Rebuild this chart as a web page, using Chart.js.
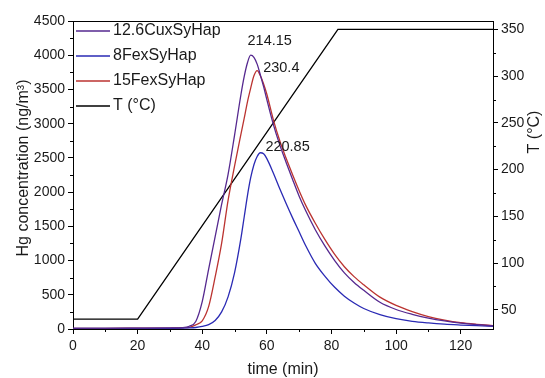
<!DOCTYPE html>
<html>
<head>
<meta charset="utf-8">
<script src="https://cdn.jsdelivr.net/npm/chart.js@4.4.0/dist/chart.umd.min.js"></script>
<style>
  html, body { margin: 0; padding: 0; background: #fff; }
</style>
</head>
<body>
<canvas id="hgChart" width="545" height="378"></canvas>
<script>
// time axis (min) shared by the three Hg curves
const time = [0, 10, 20, 30, 34, 36, 38, 40, 42, 44, 46, 48, 50, 52, 53, 54, 55, 56, 57, 58, 59, 60,
              62, 64, 66, 68, 70, 72, 75, 78, 81, 84, 87, 90, 95, 100, 105, 110, 115, 120, 125, 130];

// Hg concentration (ng/m3)
const cuHap = [10, 10, 12, 15, 20, 40, 110, 400, 880, 1350, 1820, 2260, 2830, 3430, 3690, 3890, 4000, 3970, 3870, 3710, 3540, 3350,
               2990, 2690, 2430, 2180, 1940, 1730, 1450, 1210, 1000, 820, 680, 565, 390, 285, 215, 160, 118, 86, 63, 46];
const fe8Hap = [8, 8, 8, 10, 12, 15, 22, 38, 65, 125, 250, 470, 820, 1330, 1640, 1950, 2210, 2400, 2520, 2575, 2560, 2490,
                2280, 2050, 1830, 1620, 1420, 1220, 960, 770, 610, 480, 380, 300, 210, 150, 112, 88, 70, 58, 48, 40];
const fe15Hap = [10, 10, 12, 14, 18, 25, 60, 120, 330, 760, 1250, 1880, 2380, 2850, 3080, 3320, 3520, 3700, 3775, 3700, 3580, 3430,
                 3060, 2750, 2490, 2250, 2020, 1810, 1545, 1305, 1090, 910, 765, 645, 465, 345, 255, 182, 130, 92, 68, 50];

// temperature program
const tempTime = [0, 20, 82, 130];
const tempValue = [40, 40, 350, 350];

const seriesNames = ['12.6CuxSyHap', '8FexSyHap', '15FexSyHap', 'T (°C)'];
const peakLabels = ['214.15', '220.85', '230.4'];
const axisTitles = ['time (min)', 'Hg concentration (ng/m³)', 'T (°C)'];

const xTicks = [0, 20, 40, 60, 80, 100, 120];
const xMinor = [10, 30, 50, 70, 90, 110];
const yTicks = [0, 500, 1000, 1500, 2000, 2500, 3000, 3500, 4000, 4500];
const yMinor = [250, 750, 1250, 1750, 2250, 2750, 3250, 3750, 4250];
const tTicks = [50, 100, 150, 200, 250, 300, 350];
const tMinor = [75, 125, 175, 225, 275, 325];

const FONT = "'Liberation Sans', Arial, sans-serif";
const INK = '#1a1a1a';
Chart.defaults.font.family = FONT;
Chart.defaults.color = INK;

const pts = (xs, ys) => xs.map((x, i) => ({ x: x, y: ys[i] }));

// label offsets from each peak (px): [dx, dy, align]
const labelOffsets = [[19, -14, 'center'], [5, -6, 'left'], [6, -3, 'left']];

const frame = {
  id: 'frame',
  afterDraw(chart) {
    const { ctx, chartArea: a, scales } = chart;
    ctx.save();
    ctx.strokeStyle = '#000';
    ctx.lineWidth = 1;
    ctx.beginPath();
    ctx.moveTo(a.left, a.top + 0.5);
    ctx.lineTo(a.right, a.top + 0.5);
    ctx.stroke();
    // minor ticks
    ctx.beginPath();
    xMinor.forEach(v => {
      const px = Math.round(scales.x.getPixelForValue(v)) + 0.5;
      ctx.moveTo(px, a.bottom); ctx.lineTo(px, a.bottom + 3);
    });
    yMinor.forEach(v => {
      const py = Math.round(scales.y.getPixelForValue(v)) + 0.5;
      ctx.moveTo(a.left, py); ctx.lineTo(a.left - 3, py);
    });
    tMinor.forEach(v => {
      const py = Math.round(scales.y1.getPixelForValue(v)) + 0.5;
      ctx.moveTo(a.right, py); ctx.lineTo(a.right + 3, py);
    });
    ctx.stroke();

    // vertical axis titles, both read bottom to top
    ctx.fillStyle = INK;
    ctx.font = '16px ' + FONT;
    ctx.textAlign = 'center';
    ctx.textBaseline = 'middle';
    [[24, 168, axisTitles[1]], [535, 132, axisTitles[2]]].forEach(([x, y, txt]) => {
      ctx.save();
      ctx.translate(x, y);
      ctx.rotate(-Math.PI / 2);
      ctx.fillText(txt, 0, 0);
      ctx.restore();
    });

    // legend
    chart.data.datasets.forEach((ds, i) => {
      const y = a.top + 10 + i * 25;
      ctx.strokeStyle = ds.borderColor;
      ctx.lineWidth = i === 3 ? 1.6 : 1.3;
      ctx.beginPath();
      ctx.moveTo(a.left + 3, y); ctx.lineTo(a.left + 37, y);
      ctx.stroke();
      ctx.textAlign = 'left';
      ctx.fillText(ds.label, a.left + 40, y);
    });

    // peak labels
    ctx.font = '14.5px ' + FONT;
    peakLabels.forEach((txt, i) => {
      const meta = chart.getDatasetMeta(i);
      const vals = chart.data.datasets[i].data;
      let k = 0;
      vals.forEach((p, j) => { if (p.y > vals[k].y) k = j; });
      const el = meta.data[k];
      const o = labelOffsets[i];
      ctx.textAlign = o[2];
      ctx.fillText(txt, el.x + o[0], el.y + o[1]);
    });
    ctx.restore();
  }
};

const axisTicks = { drawOnChartArea: false, drawTicks: true, tickLength: 5, color: '#000', lineWidth: 1 };
const plain = v => String(v);

new Chart(document.getElementById('hgChart'), {
  type: 'line',
  data: {
    datasets: [
      { label: seriesNames[0], data: pts(time, cuHap), borderColor: '#55288f', yAxisID: 'y' },
      { label: seriesNames[1], data: pts(time, fe8Hap), borderColor: '#2a2ab4', yAxisID: 'y' },
      { label: seriesNames[2], data: pts(time, fe15Hap), borderColor: '#bb3330', yAxisID: 'y' },
      { label: seriesNames[3], data: pts(tempTime, tempValue), borderColor: '#000', yAxisID: 'y1',
        cubicInterpolationMode: 'default', tension: 0 }
    ]
  },
  options: {
    responsive: false,
    animation: false,
    devicePixelRatio: 1,
    layout: { padding: { top: 21, left: 0, right: 0, bottom: 0 } },
    elements: {
      point: { radius: 0 },
      line: { borderWidth: 1.3, cubicInterpolationMode: 'monotone', fill: false }
    },
    plugins: { legend: { display: false }, tooltip: { enabled: false } },
    scales: {
      x: {
        type: 'linear', min: 0, max: 130,
        afterBuildTicks: s => { s.ticks = xTicks.map(v => ({ value: v })); },
        afterFit: s => { s.height = 49; },
        grid: axisTicks,
        border: { color: '#000', width: 1 },
        ticks: { font: { size: 14 }, padding: 4, maxRotation: 0, callback: plain },
        title: { display: true, text: axisTitles[0], font: { size: 16, lineHeight: 1, weight: 'normal' }, padding: { top: 0, bottom: 0 } }
      },
      y: {
        position: 'left', min: 0, max: 4500,
        afterBuildTicks: s => { s.ticks = yTicks.map(v => ({ value: v })); },
        afterFit: s => { s.width = 73; },
        grid: axisTicks,
        border: { color: '#000', width: 1 },
        ticks: { font: { size: 14 }, padding: 3, callback: plain }
      },
      y1: {
        position: 'right', min: 29.5, max: 359,
        afterBuildTicks: s => { s.ticks = tTicks.map(v => ({ value: v })); },
        afterFit: s => { s.width = 52; },
        grid: axisTicks,
        border: { color: '#000', width: 1 },
        ticks: { font: { size: 14 }, padding: 3, callback: plain }
      }
    }
  },
  plugins: [frame]
});
</script>
</body>
</html>
